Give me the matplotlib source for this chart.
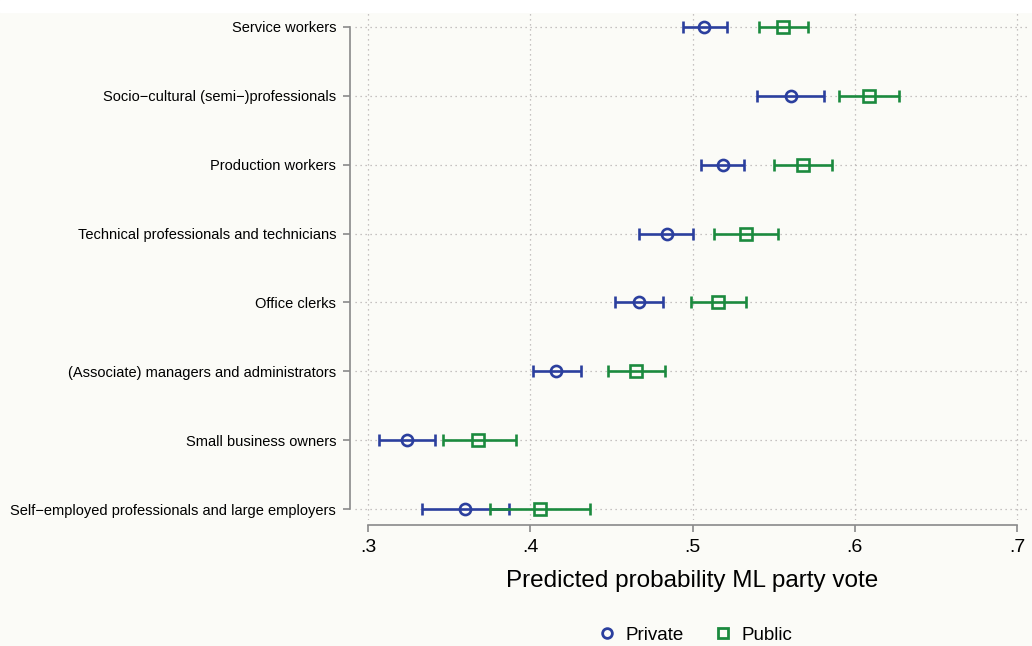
import matplotlib.pyplot as plt
import matplotlib.patches as mpatches
from matplotlib.lines import Line2D
import numpy as np

# Data
groups = ["Service workers",
          "Socio\u2212cultural (semi\u2212)professionals",
          "Production workers",
          "Technical professionals and technicians",
          "Office clerks",
          "(Associate) managers and administrators",
          "Small business owners",
          "Self\u2212employed professionals and large employers"]

private_est = [0.507, 0.561, 0.519, 0.484, 0.467, 0.416, 0.324, 0.360]
private_lo  = [0.494, 0.540, 0.505, 0.467, 0.452, 0.402, 0.307, 0.333]
private_hi  = [0.521, 0.581, 0.532, 0.500, 0.482, 0.431, 0.341, 0.387]

public_est = [0.556, 0.609, 0.568, 0.533, 0.516, 0.465, 0.368, 0.406]
public_lo  = [0.541, 0.590, 0.550, 0.513, 0.499, 0.448, 0.346, 0.375]
public_hi  = [0.571, 0.627, 0.586, 0.553, 0.533, 0.483, 0.391, 0.437]

xticks = [0.3, 0.4, 0.5, 0.6, 0.7]
xticklabels = [".3", ".4", ".5", ".6", ".7"]

blue = "#2b3f9e"
green = "#1b8a3e"
axis_gray = "#8a8a8a"
bg = "#fbfbf7"

plt.rcParams["font.family"] = ["Liberation Sans", "DejaVu Sans"]

fig = plt.figure(figsize=(10.32, 6.46), dpi=100, facecolor=bg)
# white strip along the top of the screenshot
fig.patches.append(mpatches.Rectangle((0, 1 - 12 / 646), 1, 12 / 646,
                                      transform=fig.transFigure,
                                      color="white", zorder=0))

ax = fig.add_axes([355 / 1032, 126 / 646, 675 / 1032, 508 / 646])
ax.set_facecolor(bg)

# spines first: set_position resets the ticks
for s in ["top", "right"]:
    ax.spines[s].set_visible(False)
for s in ["left", "bottom"]:
    ax.spines[s].set_color(axis_gray)
    ax.spines[s].set_linewidth(1.2)
    ax.spines[s].set_position(("outward", 3.6))

y = np.arange(len(groups))

# grid
for xv in xticks:
    ax.axvline(xv, color="#b5b0b0", linestyle=(0, (1, 3)), linewidth=0.9, zorder=1)
for yv in y:
    ax.axhline(yv, color="#b5b0b0", linestyle=(0, (1, 3)), linewidth=0.9, zorder=1)

def draw(est, lo, hi, color, marker, label):
    est = np.array(est)
    err = [est - np.array(lo), np.array(hi) - est]
    ax.errorbar(est, y, xerr=err, fmt=marker, color=color, ecolor=color,
                elinewidth=1.9, capsize=4.2, capthick=1.9,
                markersize=8, markerfacecolor="none", markeredgewidth=1.9,
                zorder=3, label=label)

draw(private_est, private_lo, private_hi, blue, "o", "Private")
draw(public_est, public_lo, public_hi, green, "s", "Public")

ax.set_xlim(0.3 - 13 / 1622.5, 0.7 + 13 / 1622.5)
ax.set_ylim(7 + 11 / 68.86, -15 / 68.86)

ax.set_yticks(y)
ax.set_yticklabels(groups)
ax.set_xticks(xticks)
ax.set_xticklabels(xticklabels)
ax.spines["left"].set_bounds(0, 7)
ax.spines["bottom"].set_bounds(0.3, 0.7)

ax.tick_params(axis="y", length=5, width=1.2, color=axis_gray, pad=5, labelsize=10.5)
ax.tick_params(axis="x", length=5, width=1.2, color=axis_gray, pad=5, labelsize=14)

ax.set_xlabel("Predicted probability ML party vote", fontsize=17.5, labelpad=10)

handles = [Line2D([], [], marker="o", linestyle="none", color=blue,
                  markerfacecolor="none", markersize=7, markeredgewidth=2),
           Line2D([], [], marker="s", linestyle="none", color=green,
                  markerfacecolor="none", markersize=7, markeredgewidth=2)]
fig.legend(handles, ["Private", "Public"], loc="center",
           bbox_to_anchor=(695 / 1032, 11 / 646), ncol=2, frameon=False,
           fontsize=13.5, handletextpad=0.5, columnspacing=1.6,
           handlelength=1.0)

fig.savefig("out.png", dpi=100, facecolor=fig.get_facecolor())
